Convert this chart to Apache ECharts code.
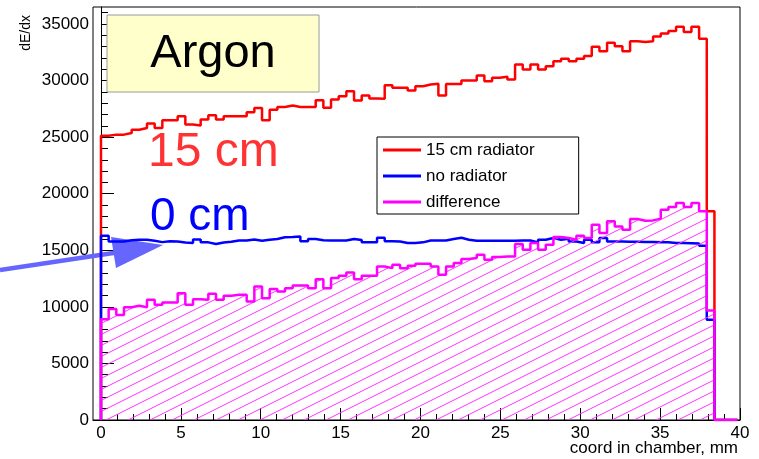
<!DOCTYPE html>
<html>
<head>
<meta charset="utf-8">
<script src="https://cdn.jsdelivr.net/npm/echarts@6/dist/echarts.min.js"></script>
<style>
html, body { margin: 0; padding: 0; background: #fff; }
#chart { width: 759px; height: 459px; }
</style>
</head>
<body>
<div id="chart"></div>
<script>
// histogram binning (mm) – 80 filled bins, then empty bins up to the axis end
const binWidth = 0.48

const radiator15 = [
  25130, 25220, 25220, 25370, 25660, 25810, 26200, 25810, 26490, 26490,
  26840, 26110, 26020, 26550, 26930, 26550, 26840, 26840, 26840, 27190,
  27580, 26490, 27430, 27670, 27790, 27670, 27670, 27670, 28260, 27590,
  28320, 28620, 29060, 28230, 28680, 28410, 28400, 29590, 29360, 29360,
  29120, 29500, 29650, 29710, 28680, 29700, 29700, 30000, 30000, 30450,
  29940, 30240, 30330, 30090, 31420, 30980, 31420, 30980, 31270, 31710,
  31920, 31710, 31920, 32160, 32980, 32600, 33340, 33040, 32600, 33480,
  33400, 33480, 33900, 34160, 34370, 34750, 34280, 34750, 33690, 18440,
  0, 0, 0
]
const noRadiator = [
  16280, 15780, 15780, 15880, 15930, 15930, 15840, 15720, 15800, 15780,
  15690, 15640, 15950, 15700, 15550, 15690, 15750, 15870, 15870, 15950,
  15840, 15930, 16000, 16150, 16170, 16220, 15800, 16000, 15880, 15870,
  15870, 15870, 16000, 15900, 15700, 15700, 16100, 15800, 15780, 15640,
  15640, 15700, 15870, 15870, 15870, 16000, 16100, 15930, 15840, 15840,
  15840, 15840, 15840, 15840, 15870, 15870, 15700, 15930, 16080, 15930,
  16020, 15780, 15640, 15930, 15700, 16080, 15780, 15780, 15760, 15760,
  15740, 15730, 15720, 15700, 15650, 15640, 15630, 15600, 15400, 8850,
  0, 0, 0
]
const difference = [
  8910, 9800, 9290, 9970, 10090, 9970, 10620, 10180, 10390, 10390,
  11210, 10180, 10680, 10620, 11150, 10620, 10980, 11060, 11060, 10470,
  11800, 10770, 11570, 11360, 11650, 11890, 11890, 11650, 12450, 11650,
  12540, 12750, 13040, 12450, 12750, 12750, 13570, 13420, 13720, 13420,
  13630, 13810, 13810, 13570, 12830, 13570, 13870, 14220, 14310, 14610,
  14160, 14400, 14460, 14460, 15550, 15050, 15640, 15050, 15490, 16170,
  16080, 15930, 16290, 16080, 17260, 16520, 17560, 17110, 16820, 17760,
  17610, 17640, 17800, 18590, 18820, 19180, 18820, 19180, 18440, 9680,
  0, 0, 0
]

const seriesNames = ['15 cm radiator', 'no radiator', 'difference']
const seriesColors = ['#ff0000', '#0000ff', '#ff00ff']
const xTickLabels = [0, 5, 10, 15, 20, 25, 30, 35, 40]
const yTickLabels = [0, 5000, 10000, 15000, 20000, 25000, 30000, 35000]

const FONT = '"Liberation Sans", Arial, Helvetica, sans-serif'
const xMinorTicks = Array.from({ length: 41 }, (_, i) => i)
const yMinorTicks = Array.from({ length: 37 }, (_, i) => i * 1000)

// step outline of a ROOT-style histogram
function histPoints (values) {
  const pts = [[0, 0]]
  values.forEach((v, i) => pts.push([i * binWidth, v]))
  const end = values.length * binWidth
  pts.push([end, values[values.length - 1]])
  pts.push([end, 0])
  return pts
}

function hatchPattern (color) {
  const c = document.createElement('canvas')
  c.width = 22
  c.height = 11
  const ctx = c.getContext('2d')
  ctx.strokeStyle = color
  ctx.lineWidth = 1
  ;[-11, 0, 11].forEach(dy => {
    ctx.beginPath()
    ctx.moveTo(0, 11 + dy)
    ctx.lineTo(22, dy)
    ctx.stroke()
  })
  return c
}

const chart = echarts.init(document.getElementById('chart'), null, { renderer: 'canvas' })

function histSeries (name, values, color, extra) {
  return Object.assign({
    name,
    type: 'line',
    step: 'end',
    data: histPoints(values),
    symbol: 'none',
    showSymbol: false,
    color,
    itemStyle: { color },
    lineStyle: { color, width: 2.5 },
    xAxisIndex: 0,
    yAxisIndex: 0,
    animation: false
  }, extra || {})
}

const plainNumber = v => String(v)

const option = {
  animation: false,
  backgroundColor: '#fff',
  textStyle: { fontFamily: FONT },
  grid: {
    left: 93, right: 19, top: 7, bottom: 39,
    show: true, borderColor: '#000', borderWidth: 1,
    containLabel: false, outerBoundsMode: 'none'
  },
  xAxis: [
    {
      type: 'value', min: -0.5, max: 40, position: 'bottom',
      axisLine: { show: true, lineStyle: { color: '#000', width: 1 } },
      axisTick: { show: true, inside: true, length: 6, customValues: xMinorTicks, lineStyle: { color: '#000' } },
      axisLabel: { customValues: xTickLabels, formatter: plainNumber, fontSize: 17, color: '#000', fontFamily: FONT, margin: 5 },
      splitLine: { show: false }
    },
    {
      type: 'value', min: -0.5, max: 40, position: 'bottom',
      axisLine: { show: false },
      axisTick: { show: true, inside: true, length: 12, customValues: xTickLabels, lineStyle: { color: '#000' } },
      axisLabel: { show: false },
      splitLine: { show: false }
    }
  ],
  yAxis: [
    {
      type: 'value', min: 0, max: 36500, position: 'left',
      axisLine: { show: true, lineStyle: { color: '#000', width: 1 } },
      axisTick: { show: true, inside: true, length: 13, customValues: yTickLabels, lineStyle: { color: '#000' } },
      axisLabel: { customValues: yTickLabels, formatter: plainNumber, fontSize: 17, color: '#000', fontFamily: FONT, margin: 4 },
      splitLine: { show: false }
    },
    {
      type: 'value', min: 0, max: 36500, position: 'left',
      axisLine: { show: false },
      axisTick: { show: true, inside: true, length: 7, customValues: yMinorTicks, lineStyle: { color: '#000' } },
      axisLabel: { show: false },
      splitLine: { show: false }
    }
  ],
  legend: {
    orient: 'vertical',
    left: 377,
    top: 137,
    padding: [3, 44, 2, 6],
    itemGap: 6,
    itemWidth: 38,
    itemHeight: 3,
    icon: 'rect',
    selectedMode: false,
    backgroundColor: '#fff',
    borderColor: '#000',
    borderWidth: 1,
    textStyle: { fontSize: 17, color: '#000', fontFamily: FONT, lineHeight: 20 },
    data: seriesNames.map((n, i) => ({ name: n, itemStyle: { color: seriesColors[i] } }))
  },
  series: [
    histSeries(seriesNames[0], radiator15, seriesColors[0], { z: 3 }),
    histSeries(seriesNames[1], noRadiator, seriesColors[1], { z: 4 }),
    histSeries(seriesNames[2], difference, seriesColors[2], {
      z: 5,
      areaStyle: { color: { image: hatchPattern('#ff33ff'), repeat: 'repeat' }, opacity: 1 }
    })
  ],
  graphic: [
    {
      type: 'rect', z: 10,
      shape: { x: 107, y: 15, width: 212, height: 77 },
      style: { fill: '#ffffcc', stroke: '#9a9a9a', lineWidth: 1 }
    },
    {
      type: 'text', z: 11, x: 213, y: 54,
      style: { text: 'Argon', font: '47px ' + FONT, fill: '#000', textAlign: 'center', textVerticalAlign: 'middle' }
    },
    {
      type: 'text', z: 11, x: 148, y: 153,
      style: { text: '15 cm', font: '48px ' + FONT, fill: '#ff3333', textAlign: 'left', textVerticalAlign: 'middle' }
    },
    {
      type: 'text', z: 11, x: 150, y: 217,
      style: { text: '0 cm', font: '46px ' + FONT, fill: '#0000ff', textAlign: 'left', textVerticalAlign: 'middle' }
    },
    {
      type: 'line', z: 1,
      shape: { x1: 0, y1: 270, x2: 120, y2: 252 },
      style: { stroke: '#6666ff', lineWidth: 4.5 }
    },
    {
      type: 'polygon', z: 1,
      shape: { points: [[163, 245], [111, 237], [116, 268]] },
      style: { fill: '#6666ff' }
    },
    {
      type: 'text', z: 11, x: 26, y: 15, rotation: Math.PI / 2,
      style: { text: 'dE/dx', font: '14px ' + FONT, fill: '#000', textAlign: 'right', textVerticalAlign: 'middle' }
    },
    {
      type: 'text', z: 11, x: 738, y: 448,
      style: { text: 'coord in chamber, mm', font: '17px ' + FONT, fill: '#000', textAlign: 'right', textVerticalAlign: 'middle' }
    }
  ]
}

chart.setOption(option)
window.addEventListener('resize', () => chart.resize())
</script>
</body>
</html>
